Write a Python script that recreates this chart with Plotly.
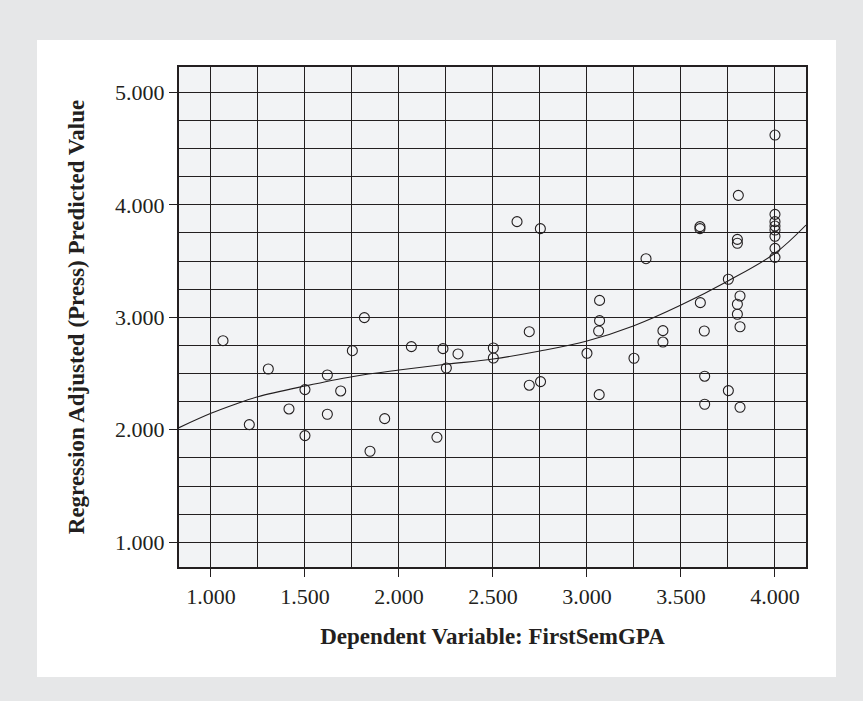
import plotly.graph_objects as go

# Observed points (Dependent Variable: FirstSemGPA vs Regression Adjusted (Press) Predicted Value)
gpa = [1.064, 1.204, 1.305, 1.415, 1.500, 1.500, 1.619, 1.619, 1.690, 1.752,
       1.816, 1.846, 1.924, 2.066, 2.202, 2.234, 2.252, 2.314, 2.502, 2.502,
       2.628, 2.693, 2.693, 2.752, 2.753, 3.000, 3.067, 3.067, 3.062, 3.065,
       3.250, 3.314, 3.404, 3.404, 3.601, 3.601, 3.603, 3.624, 3.626, 3.626,
       3.752, 3.752, 3.805, 3.800, 3.800, 3.814, 3.800, 3.800, 3.814, 3.814,
       4.000, 4.000, 4.000, 4.000, 4.000, 4.000, 4.000, 4.000]
pred = [2.792, 2.046, 2.540, 2.185, 2.357, 1.948, 2.487, 2.138, 2.345, 2.703,
        2.997, 1.809, 2.099, 2.739, 1.933, 2.721, 2.549, 2.674, 2.727, 2.638,
        3.850, 2.872, 2.396, 3.788, 2.428, 2.680, 3.150, 2.970, 2.878, 2.312,
        2.636, 3.521, 2.881, 2.780, 3.806, 3.788, 3.130, 2.878, 2.476, 2.227,
        3.338, 2.348, 4.084, 3.693, 3.658, 3.189, 3.116, 3.027, 2.916, 2.200,
        4.620, 3.915, 3.850, 3.811, 3.776, 3.720, 3.613, 3.533]

# Fitted curve
curve_x = [0.83, 1.0, 1.125, 1.25, 1.5, 1.75, 2.0, 2.25, 2.5, 2.75, 3.0, 3.25, 3.5, 3.75, 4.0, 4.165]
curve_y = [2.019, 2.146, 2.225, 2.294, 2.389, 2.472, 2.531, 2.582, 2.629, 2.700, 2.789, 2.925, 3.109, 3.323, 3.569, 3.820]

x_title = "Dependent Variable: FirstSemGPA"
y_title = "Regression Adjusted (Press) Predicted Value"

INK = "#231f20"
BG = "#e6e7e8"
FONT = "Liberation Serif"

fig = go.Figure()
fig.add_trace(go.Scatter(x=curve_x, y=curve_y, mode="lines",
                         line=dict(color=INK, width=1.1, shape="spline"),
                         hoverinfo="skip", showlegend=False))
fig.add_trace(go.Scatter(x=gpa, y=pred, mode="markers",
                         marker=dict(symbol="circle-open", size=10, color=INK,
                                     line=dict(width=1.1, color=INK)),
                         showlegend=False))

W, H = 863, 701
L, R, T, B = 179, 806, 67, 567
pw, ph = R - L, B - T

def px_x(p):
    return (p - L) / pw

def px_y(p):
    return (B - p) / ph

fig.update_layout(
    width=W, height=H,
    margin=dict(l=L, r=W - R, t=T, b=H - B, pad=0),
    paper_bgcolor=BG,
    plot_bgcolor="rgba(0,0,0,0)",
    font=dict(family=FONT, color=INK, size=22),
    shapes=[
        dict(type="rect", xref="paper", yref="paper", layer="below",
             x0=px_x(37), x1=px_x(836), y0=px_y(677), y1=px_y(40),
             fillcolor="white", line=dict(width=0)),
        dict(type="rect", xref="paper", yref="paper", layer="below",
             x0=0, x1=1, y0=0, y1=1,
             fillcolor="#f2f3f5", line=dict(width=0)),
    ],
    xaxis=dict(
        range=[0.830, 4.165], tick0=1.0, dtick=0.5, tickformat=".3f",
        ticks="outside", ticklen=8, tickwidth=1, tickcolor=INK,
        showgrid=True, gridcolor=INK, gridwidth=1.2,
        minor=dict(tick0=1.0, dtick=0.25, showgrid=True, gridcolor=INK, gridwidth=1.2, ticks=""),
        showline=True, linecolor=INK, linewidth=2.2, mirror=True, zeroline=False,
        title=dict(text="<b>" + x_title + "</b>", font=dict(size=23), standoff=20),
        tickfont=dict(size=22),
    ),
    yaxis=dict(
        range=[0.78, 5.225], tick0=1.0, dtick=1.0, tickformat=".3f",
        ticks="outside", ticklen=8, tickwidth=1, tickcolor=INK,
        showgrid=True, gridcolor=INK, gridwidth=1.2,
        minor=dict(tick0=1.0, dtick=0.25, showgrid=True, gridcolor=INK, gridwidth=1.2, ticks=""),
        showline=True, linecolor=INK, linewidth=2.2, mirror=True, zeroline=False,
        title=dict(text="<b>" + y_title + "</b>", font=dict(size=23), standoff=24),
        tickfont=dict(size=22),
    ),
)

fig.write_html(
    "out.html",
    config={"displayModeBar": False},
    post_script="document.body.style.margin='0';document.body.style.background='" + BG + "';",
)
